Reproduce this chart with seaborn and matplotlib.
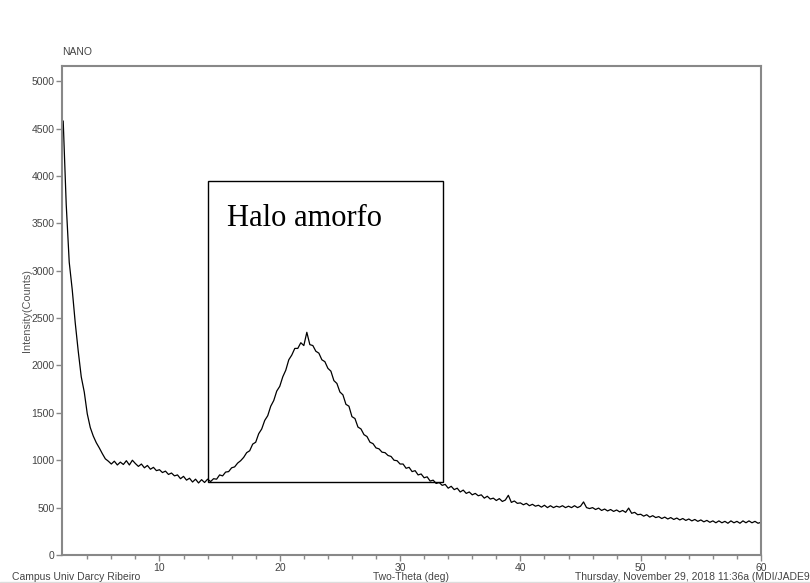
import numpy as np
import pandas as pd
import matplotlib
matplotlib.use("Agg")
import matplotlib.pyplot as plt
from matplotlib.patches import Rectangle
import seaborn as sns

# Scan grid (2-theta, deg) and intensity
two_theta = np.arange(2.0, 60.001, 0.25)
intensity = [
    4580, 3700, 3090, 2800, 2450, 2150, 1880, 1720, 1490, 1345, 1255, 1185,  # 2
    1130, 1070, 1015, 990, 960, 990, 950, 980, 955, 995, 950, 1000,          # 5
    965, 935, 960, 920, 945, 905, 925, 890, 900, 870, 885, 850,              # 8
    865, 835, 845, 805, 830, 790, 810, 770, 800, 760, 795, 765,              # 11
    800, 775, 805, 800, 845, 835, 875, 880, 920, 930, 970, 995,              # 14
    1030, 1080, 1100, 1170, 1190, 1280, 1330, 1420, 1470, 1570, 1630, 1730,  # 17
    1780, 1880, 1950, 2060, 2110, 2180, 2180, 2240, 2210, 2350, 2220, 2210,  # 20
    2150, 2130, 2060, 2040, 1970, 1940, 1840, 1810, 1720, 1690, 1590, 1570,  # 23
    1460, 1440, 1350, 1330, 1270, 1250, 1190, 1175, 1130, 1120, 1085, 1080,  # 26
    1050, 1040, 1000, 995, 960, 960, 915, 925, 880, 890, 845, 855,           # 29
    815, 825, 780, 790, 755, 765, 735, 745, 705, 725, 690, 705,              # 32
    665, 685, 650, 665, 635, 650, 625, 635, 600, 620, 590, 600,              # 35
    575, 595, 565, 580, 630, 555, 570, 545, 550, 530, 545, 520,              # 38
    535, 515, 525, 505, 525, 500, 520, 500, 515, 505, 520, 500,              # 41
    515, 500, 520, 500, 515, 560, 500, 490, 500, 480, 495, 470,              # 44
    485, 465, 480, 460, 475, 455, 470, 450, 495, 440, 450, 425,              # 47
    430, 410, 425, 400, 415, 395, 405, 385, 400, 380, 395, 375,              # 50
    390, 370, 385, 365, 380, 360, 375, 355, 370, 350, 365, 345,              # 53
    360, 340, 360, 340, 355, 335, 360, 340, 355, 335, 360, 340,              # 56
    360, 340, 355, 335, 345,                                                 # 59
]
x_ticks = [10, 20, 30, 40, 50, 60]
y_ticks = [0, 500, 1000, 1500, 2000, 2500, 3000, 3500, 4000, 4500, 5000]
title = "NANO"
annotation = "Halo amorfo"
box_x = [14.05, 33.55]
box_y = [770, 3945]

n = min(len(two_theta), len(intensity))
df = pd.DataFrame({"two_theta": two_theta[:n], "intensity": intensity[:n]})

sns.set_style("ticks")
plt.rcParams["font.family"] = ["Liberation Sans", "DejaVu Sans"]

fig = plt.figure(figsize=(8.1, 5.83), dpi=100)
ax = fig.add_axes([62 / 810, 1 - 555 / 583, (761 - 62) / 810, (555 - 66) / 583])

sns.lineplot(data=df, x="two_theta", y="intensity", ax=ax, color="black",
             linewidth=0.9)

ax.set_xlim(1.9, 60)
ax.set_ylim(0, 5160)
ax.set_xticks(x_ticks)
ax.set_xticks(np.arange(4, 60, 2), minor=True)
ax.set_yticks(y_ticks)
ax.tick_params(axis="both", which="major", direction="out", length=4, width=1,
               color="#888888", labelsize=7.5, labelcolor="#444444", pad=1.5)
ax.tick_params(axis="x", which="minor", direction="out", length=3, width=1,
               color="#888888")
ax.set_xlabel("")
ax.set_ylabel("Intensity(Counts)", fontsize=7.8, color="#555555")
ax.yaxis.set_label_coords(-0.043, 0.5)
for sp in ax.spines.values():
    sp.set_visible(True)
    sp.set_color("#888888")
    sp.set_linewidth(1.5)

ax.add_patch(Rectangle((box_x[0], box_y[0]), box_x[1] - box_x[0],
                       box_y[1] - box_y[0], fill=False, edgecolor="black",
                       linewidth=1.0, zorder=3))
ax.text(15.6, 3470, annotation, family=["Liberation Serif", "DejaVu Serif"],
        fontsize=22, color="black", va="baseline", ha="left")

fig.text(62 / 810, 1 - 52 / 583, title, fontsize=7.5, color="#444444",
         ha="left", va="center")
fig.text(12 / 810, 1 - 577 / 583, "Campus Univ Darcy Ribeiro", fontsize=7.5,
         color="#444444", ha="left", va="center")
fig.text(411 / 810, 1 - 577.5 / 583, "Two-Theta (deg)", fontsize=7.5,
         color="#444444", ha="center", va="center")
fig.text(810 / 810, 1 - 577.5 / 583,
         "Thursday, November 29, 2018 11:36a (MDI/JADE9", fontsize=7.5,
         color="#444444", ha="right", va="center")
fig.add_artist(plt.Line2D([0, 1], [1 - 581.5 / 583] * 2, color="#dddddd",
                          linewidth=1))

fig.savefig("out.png", dpi=100)
